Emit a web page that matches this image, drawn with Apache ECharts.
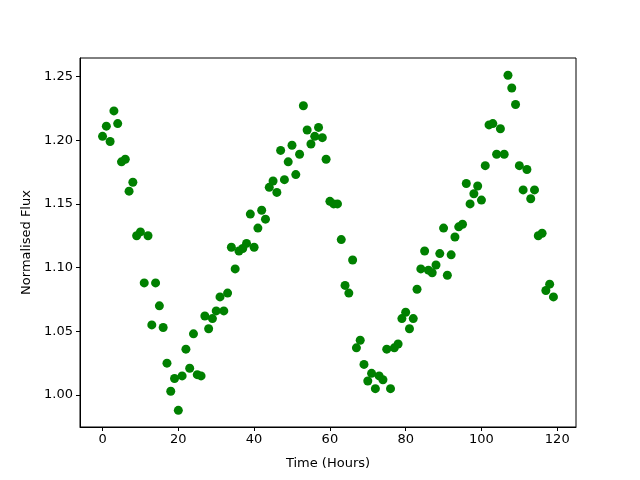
<!DOCTYPE html>
<html>
<head>
<meta charset="utf-8">
<script src="https://cdn.jsdelivr.net/npm/echarts@6/dist/echarts.min.js"></script>
<style>
  html, body { margin: 0; padding: 0; background: #fff; }
  #chart { width: 640px; height: 480px; }
</style>
</head>
<body>
<div id="chart"></div>
<script>
// hours since start of observation
var hours = [
  0, 1, 2, 3, 4, 5, 6, 7, 8, 9, 10, 11, 12, 13, 14, 15, 16, 17, 18, 19,
  20, 21, 22, 23, 24, 25, 26, 27, 28, 29, 30, 31, 32, 33, 34, 35, 36, 37, 38, 39,
  40, 41, 42, 43, 44, 45, 46, 47, 48, 49, 50, 51, 52, 53, 54, 55, 56, 57, 58, 59,
  60, 61, 62, 63, 64, 65, 66, 67, 68, 69, 70, 71, 72, 73, 74, 75, 76, 77, 78, 79,
  80, 81, 82, 83, 84, 85, 86, 87, 88, 89, 90, 91, 92, 93, 94, 95, 96, 97, 98, 99,
  100, 101, 102, 103, 104, 105, 106, 107, 108, 109, 110, 111, 112, 113, 114, 115, 116, 117, 118, 119
];
// normalised flux
var flux = [
  1.203, 1.211, 1.199, 1.223, 1.213, 1.183, 1.185, 1.160, 1.167, 1.125,
  1.128, 1.088, 1.125, 1.055, 1.088, 1.070, 1.053, 1.025, 1.003, 1.013,
  0.988, 1.015, 1.036, 1.021, 1.048, 1.016, 1.015, 1.062, 1.052, 1.060,
  1.066, 1.077, 1.066, 1.080, 1.116, 1.099, 1.113, 1.115, 1.119, 1.142,
  1.116, 1.131, 1.145, 1.138, 1.163, 1.168, 1.159, 1.192, 1.169, 1.183,
  1.196, 1.173, 1.189, 1.227, 1.208, 1.197, 1.203, 1.210, 1.202, 1.185,
  1.152, 1.150, 1.150, 1.122, 1.086, 1.080, 1.106, 1.037, 1.043, 1.024,
  1.011, 1.017, 1.005, 1.015, 1.012, 1.036, 1.005, 1.037, 1.040, 1.060,
  1.065, 1.052, 1.060, 1.083, 1.099, 1.113, 1.098, 1.096, 1.102, 1.111,
  1.131, 1.094, 1.110, 1.124, 1.132, 1.134, 1.166, 1.150, 1.158, 1.164,
  1.153, 1.180, 1.212, 1.213, 1.189, 1.209, 1.189, 1.251, 1.241, 1.228,
  1.180, 1.161, 1.177, 1.154, 1.161, 1.125, 1.127, 1.082, 1.087, 1.077
];
var xTicks = [0, 20, 40, 60, 80, 100, 120];
var yTicks = [1.00, 1.05, 1.10, 1.15, 1.20, 1.25];

var points = [];
for (var i = 0; i < hours.length; i++) {
  points.push([hours[i], flux[i]]);
}

var font = 'DejaVu Sans';
var chart = echarts.init(document.getElementById('chart'), null, { renderer: 'canvas' });
var option = {
  backgroundColor: '#fff',
  animation: false,
  grid: {
    left: 80, right: 64, top: 58, bottom: 53,
    show: true, borderColor: '#000', borderWidth: 1
  },
  xAxis: {
    type: 'value',
    min: -5.95,
    max: 124.95,
    name: 'Time (Hours)',
    nameLocation: 'middle',
    nameGap: 30,
    nameTextStyle: { fontFamily: font, fontSize: 13, color: '#000' },
    axisLine: { show: true, onZero: false, lineStyle: { color: '#000', width: 1 } },
    axisTick: { show: true, length: 4, customValues: xTicks, lineStyle: { color: '#000' } },
    axisLabel: { customValues: xTicks, margin: 6, fontFamily: font, fontSize: 13, color: '#000' },
    splitLine: { show: false }
  },
  yAxis: {
    type: 'value',
    min: 0.9749,
    max: 1.2645,
    name: 'Normalised Flux',
    nameLocation: 'middle',
    nameGap: 47,
    nameTextStyle: { fontFamily: font, fontSize: 13, color: '#000' },
    axisLine: { show: true, onZero: false, lineStyle: { color: '#000', width: 1 } },
    axisTick: { show: true, length: 4, customValues: yTicks, lineStyle: { color: '#000' } },
    axisLabel: {
      customValues: yTicks, margin: 7, fontFamily: font, fontSize: 13, color: '#000',
      formatter: function (v) { return v.toFixed(2); }
    },
    splitLine: { show: false }
  },
  series: [{
    type: 'scatter',
    data: points,
    symbol: 'circle',
    symbolSize: 9,
    itemStyle: { color: '#008000', opacity: 1 }
  }]
};
chart.setOption(option);
</script>
</body>
</html>
